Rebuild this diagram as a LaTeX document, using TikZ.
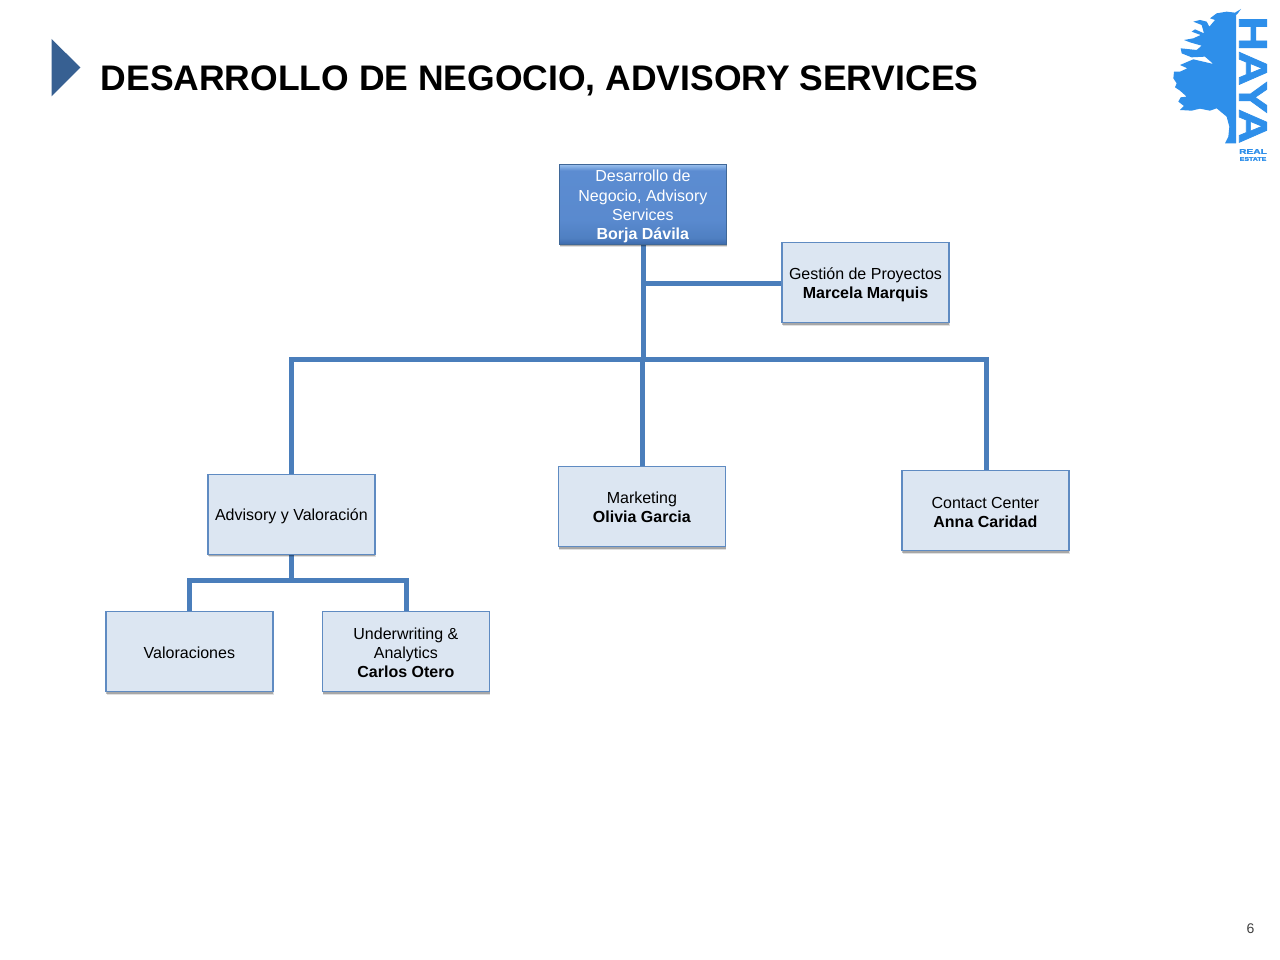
\documentclass[tikz,border=0pt]{standalone}
\usepackage{fontspec}
\setmainfont{Liberation Sans}
\newfontfamily\logofont[FakeBold=1.6]{Liberation Sans Bold}
\usetikzlibrary{shadows,calc}
\newcommand\lowerby[2]{\raisebox{0pt}[\dimexpr\height+#1\relax][\depth]{#2}}
\definecolor{boxfill}{HTML}{DCE6F2}
\definecolor{boxline}{HTML}{5F8BC2}
\definecolor{conn}{HTML}{4A7EBB}
\definecolor{topline}{HTML}{3F6797}
\definecolor{tri}{HTML}{376092}
\definecolor{logo}{HTML}{2E8FEA}
\pgfdeclareverticalshading{topshade}{100bp}{
  rgb(0bp)=(0.24,0.42,0.68);
  rgb(25bp)=(0.24,0.42,0.68);
  rgb(29bp)=(0.31,0.50,0.76);
  rgb(40bp)=(0.35,0.54,0.81);
  rgb(71bp)=(0.36,0.55,0.82);
  rgb(74bp)=(0.55,0.71,0.91);
  rgb(75bp)=(0.62,0.76,0.93);
  rgb(100bp)=(0.62,0.76,0.93)}
\tikzset{
  orgbox/.style={draw=boxline,line width=1.3pt,fill=boxfill,minimum width=167pt,minimum height=80pt,inner sep=0pt,align=center,text=black,
    font=\fontsize{16}{19}\selectfont,
    drop shadow={shadow xshift=0.6pt,shadow yshift=-3.2pt,fill=black,opacity=0.12},
    drop shadow={shadow xshift=0.4pt,shadow yshift=-1.8pt,fill=black,opacity=0.25}},
  topbox/.style={orgbox,draw=topline,shading=topshade,text=white,font=\fontsize{16}{19.2}\selectfont},
  link/.style={draw=conn,line width=5pt,line cap=butt,line join=miter}
}
\begin{document}
\begin{tikzpicture}[x=1pt,y=-1pt]
\useasboundingbox (0,0) rectangle (1280,960);
\fill[white] (0,0) rectangle (1280,960);
% connector joints
\coordinate (busL) at (291.5,359.5);
\coordinate (busC) at (643,359.5);
\coordinate (busR) at (986,359.5);
\coordinate (subL) at (189.5,580);
\coordinate (subC) at (291.5,580);
\coordinate (subR) at (406,580);
\coordinate (brG) at (643.5,283);
% links (under the boxes)
\draw[link] (643,244) -- (busC);
\draw[link] (brG) -- (782,283);
\draw[link] (busL |- 0,474) -- (busL) -- (busR) -- (busR |- 0,471);
\draw[link] (642,467) -- (642,359.5);
\draw[link] (subC |- 0,555) -- (subC);
\draw[link] (subL |- 0,612) -- (subL) -- (subR) -- (subR |- 0,612);
% nodes
\node[topbox] (top) at (642.9,204.2) {\raisebox{-7pt}[38pt][38pt]{\begin{tabular}{@{}c@{}}\strut Desarrollo de\\\strut Negocio, Advisory\\\strut Services\\\strut\textbf{Borja Dávila}\end{tabular}}};
\node[orgbox] (gest) at (865.5,282.7) {\lowerby{6pt}{\begin{tabular}{@{}c@{}}\strut Gestión de Proyectos\\\strut\textbf{Marcela Marquis}\end{tabular}}};
\node[orgbox] (adv) at (291.4,514.2) {\lowerby{4pt}{\strut Advisory y Valoración}};
\node[orgbox] (mkt) at (641.9,506.7) {\lowerby{4pt}{\begin{tabular}{@{}c@{}}\strut Marketing\\\strut\textbf{Olivia Garcia}\end{tabular}}};
\node[orgbox] (cc) at (985.4,510.7) {\lowerby{6pt}{\begin{tabular}{@{}c@{}}\strut Contact Center\\\strut\textbf{Anna Caridad}\end{tabular}}};
\node[orgbox] (val) at (189.4,651.7) {\lowerby{6pt}{\strut Valoraciones}};
\node[orgbox] (und) at (405.9,651.7) {\lowerby{6pt}{\begin{tabular}{@{}c@{}}\strut Underwriting \&\\\strut Analytics\\\strut\textbf{Carlos Otero}\end{tabular}}};
% title
\fill[tri] (51.5,39) -- (80.5,67.5) -- (51.5,96.5) -- cycle;
\node[anchor=west,inner sep=0pt,font=\fontsize{35.5}{40}\selectfont\bfseries] (title) at (100.5,82.5) {\strut DESARROLLO DE NEGOCIO, ADVISORY SERVICES};
% logo
\begin{scope}[shift={(1160,0)},x=0.3333pt,y=-0.3333pt]
\fill[logo] (228,430) -- (195,430) -- (205,410) -- (208,380) -- (200,350) -- (170,325) -- (150,332) -- (120,326) -- (95,332) -- (60,330) -- (72,318) -- (55,305) -- (62,292) -- (80,290) -- (60,272) -- (45,262) -- (50,250) -- (40,235) -- (42,215) -- (60,215) -- (82,205) -- (60,195) -- (100,178) -- (160,192) -- (135,170) -- (95,172) -- (65,160) -- (62,145) -- (110,150) -- (125,137) -- (90,127) -- (72,120) -- (100,115) -- (122,105) -- (95,95) -- (105,88) -- (132,100) -- (125,75) -- (100,65) -- (120,60) -- (140,65) -- (148,80) -- (165,60) -- (150,55) -- (170,40) -- (200,35) -- (225,38) -- (243,27) -- (232,42) -- (228,45) -- cycle;
\end{scope}
\node[rotate=-90,inner sep=0pt,text=logo,font=\fontsize{40}{42}\logofont] (haya) at (1253,80) {\scalebox{1.2}[1]{HAYA}};
\node[inner sep=0pt,text=logo,font=\fontsize{7}{7}\logofont] (re1) at (1253,151.5) {\scalebox{1.45}[1]{REAL}};
\node[inner sep=0pt,text=logo,font=\fontsize{5.5}{6}\logofont] (re2) at (1253,159) {\scalebox{1.27}[1]{ESTATE}};
% page number
\node[inner sep=0pt,text=black!75,font=\fontsize{14}{16}\selectfont] (pn) at (1250.5,929) {6};
\end{tikzpicture}
\end{document}
